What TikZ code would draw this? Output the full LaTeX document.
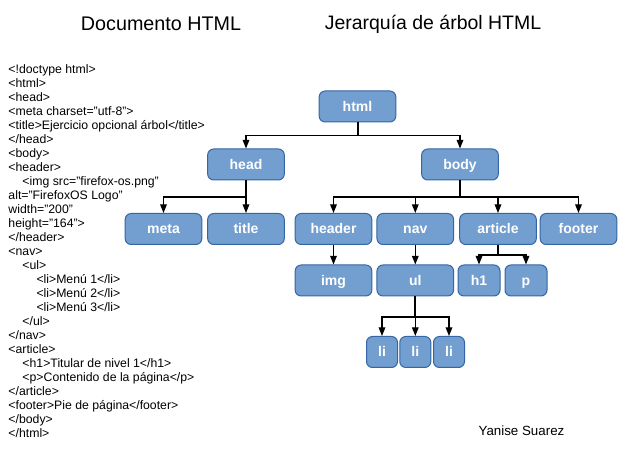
\documentclass[tikz,border=0pt]{standalone}
\usepackage{fontspec}
\setmainfont{Liberation Sans}
\usetikzlibrary{arrows.meta}

\definecolor{boxfill}{RGB}{114,159,207}
\definecolor{boxline}{RGB}{52,101,164}

\tikzset{every picture/.style={line width=0.75pt}}
\tikzset{
  tag/.style={draw=boxline, fill=boxfill, rounded corners=4.5pt, text=white,
    font=\fontsize{10.5}{12}\selectfont\bfseries, minimum width=57.5pt,
    minimum height=23.25pt, inner sep=0pt, text height=9pt, text depth=1.5pt},
  smalltag/.style={tag, minimum width=31.5pt},
  litag/.style={tag, minimum width=23.25pt},
  stem/.style={line width=1.5pt},
  branch/.style={line width=0.9pt, -{Triangle[length=6.5pt,width=5pt]}},
}

\begin{document}
\begin{tikzpicture}[x=0.75pt,y=0.75pt,yscale=-1,xscale=1]
	\useasboundingbox (0,0) rectangle (622,466);

	%Titles
	\node (tdoc) at (161,24) {\fontsize{14.8}{17}\selectfont Documento HTML};
	\node (tarbol) at (433,24) {\fontsize{14.6}{17}\selectfont Jerarquía de árbol HTML};

	%Code
	\node [anchor=north west, inner sep=0pt, align=left, font=\fontsize{9.2}{10.5}\selectfont] (code) at (8,64) {<!doctype html>\\
<html>\\
<head>\\
<meta charset="utf-8">\\
<title>Ejercicio opcional árbol</title>\\
</head>\\
<body>\\
<header>\\
\hspace*{10.5pt}<img src="firefox-os.png"\\
alt="FirefoxOS Logo"\\
width="200"\\
height="164">\\
</header>\\
<nav>\\
\hspace*{10.5pt}<ul>\\
\hspace*{21pt}<li>Menú 1</li>\\
\hspace*{21pt}<li>Menú 2</li>\\
\hspace*{21pt}<li>Menú 3</li>\\
\hspace*{10.5pt}</ul>\\
</nav>\\
<article>\\
\hspace*{10.5pt}<h1>Titular de nivel 1</h1>\\
\hspace*{10.5pt}<p>Contenido de la página</p>\\
</article>\\
<footer>Pie de página</footer>\\
</body>\\
</html>};

	%Tree
	\node [tag] (html) at (357.5,106.5) {html};
	\node [tag] (head) at (246,164.5) {head};
	\node [tag] (body) at (460,164.5) {body};
	\node [tag] (meta) at (163.5,229) {meta};
	\node [tag] (title) at (246,229) {title};
	\node [tag] (header) at (333.5,229) {header};
	\node [tag] (nav) at (415.3,229) {nav};
	\node [tag] (article) at (498,229) {article};
	\node [tag] (footer) at (578.5,229) {footer};
	\node [tag] (img) at (333.5,280.5) {img};
	\node [tag] (ul) at (415.3,280.5) {ul};
	\node [smalltag] (h1) at (479,280.5) {h1};
	\node [smalltag] (p) at (526,280.5) {p};
	\node [litag] (li1) at (382,352) {li};
	\node [litag] (li2) at (415.3,352) {li};
	\node [litag] (li3) at (449,352) {li};

	%Connectors
	\draw [stem] (html.south) -- ++(0,13) coordinate (jhtml);
	\draw [branch] (jhtml) -| (head.north);
	\draw [branch] (jhtml) -| (body.north);

	\draw [stem] (head.south) -- ++(0,16.5) coordinate (jhead);
	\draw [branch] (jhead) -| (meta.north);
	\draw [branch] (jhead) -- (title.north);

	\draw [stem] (body.south) -- ++(0,16.5) coordinate (jbody);
	\foreach \n in {header,nav,article,footer}
		\draw [branch] (jbody) -| (\n.north);

	\draw [branch] (header.south) -- (img.north);
	\draw [branch] (nav.south) -- (ul.north);

	\draw [stem] (article.south) -- ++(0,10) coordinate (jarticle);
	\draw [branch] (jarticle) -| (h1.north);
	\draw [branch] (jarticle) -| (p.north);

	\draw [stem] (ul.south) -- ++(0,20.5) coordinate (jul);
	\foreach \n in {li1,li2,li3}
		\draw [branch] (jul) -| (\n.north);

	%Author
	\node (author) at (521.5,431) {\fontsize{10}{12}\selectfont Yanise Suarez};
\end{tikzpicture}
\end{document}
